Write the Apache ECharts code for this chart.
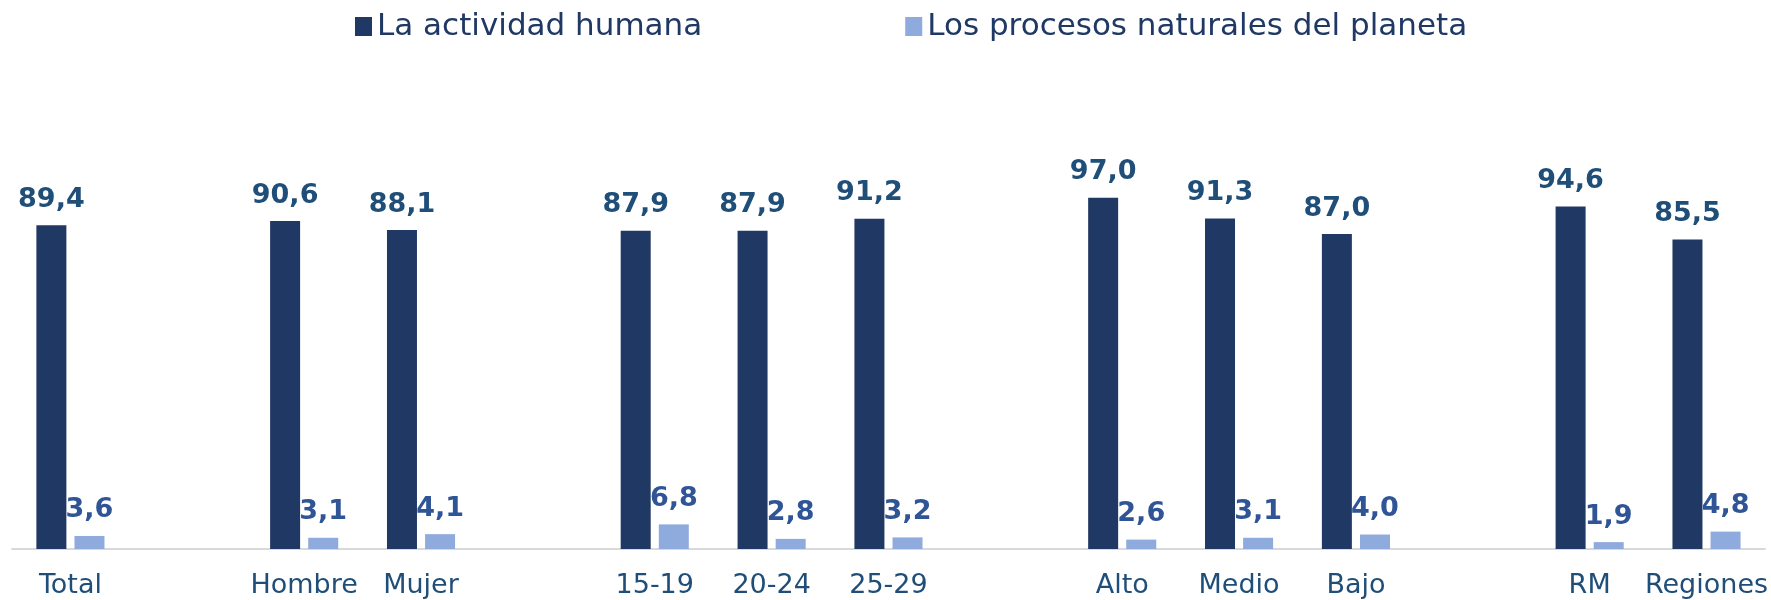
<!DOCTYPE html>
<html>
<head>
<meta charset="utf-8">
<script src="https://cdn.jsdelivr.net/npm/echarts@6/dist/echarts.min.js"></script>
<style>
  html, body { margin: 0; padding: 0; background: #fff; }
  #chart { width: 1771px; height: 600px; }
</style>
</head>
<body>
<div id="chart"></div>
<script>
// categorias ('' = separacion entre grupos)
const categories = ['Total', '', 'Hombre', 'Mujer', '', '15-19', '20-24', '25-29', '', 'Alto', 'Medio', 'Bajo', '', 'RM', 'Regiones']
const actividadHumana = [89.4, null, 90.6, 88.1, null, 87.9, 87.9, 91.2, null, 97.0, 91.3, 87.0, null, 94.6, 85.5]
const procesosNaturales = [3.6, null, 3.1, 4.1, null, 6.8, 2.8, 3.2, null, 2.6, 3.1, 4.0, null, 1.9, 4.8]
const seriesNames = ['La actividad humana', 'Los procesos naturales del planeta']

const fmt = (p) => p.value == null ? '' : p.value.toFixed(1).replace('.', ',')

const chart = echarts.init(document.getElementById('chart'))
const option = {
  animation: false,
  textStyle: { fontFamily: 'DejaVu Sans' },
  legend: {
    data: seriesNames,
    left: 350,
    top: 6,
    itemWidth: 17,
    itemHeight: 19,
    itemGap: 203,
    icon: 'rect',
    textStyle: { fontSize: 31, color: '#1f3864', fontFamily: 'DejaVu Sans' }
  },
  grid: { left: 12, right: 4, top: 187, bottom: 51 },
  xAxis: {
    type: 'category',
    data: categories,
    axisTick: { show: false },
    axisLine: { show: true, lineStyle: { color: '#d9d9d9', width: 2 } },
    axisLabel: { interval: 0, color: '#1f4e79', fontSize: 27, margin: 23 }
  },
  yAxis: {
    type: 'value',
    min: 0,
    max: 100,
    show: false
  },
  series: [
    {
      name: seriesNames[0],
      type: 'bar',
      barWidth: 30,
      barGap: '27%',
      itemStyle: { color: '#203864' },
      label: {
        show: true,
        position: 'top',
        distance: 12,
        formatter: fmt,
        color: '#1f4e79',
        fontSize: 27,
        fontWeight: 'bold'
      },
      data: actividadHumana
    },
    {
      name: seriesNames[1],
      type: 'bar',
      barWidth: 30,
      itemStyle: { color: '#8faadc' },
      label: {
        show: true,
        position: 'top',
        distance: 12,
        formatter: fmt,
        color: '#2f5597',
        fontSize: 27,
        fontWeight: 'bold'
      },
      data: procesosNaturales
    }
  ]
}
chart.setOption(option)
</script>
</body>
</html>
